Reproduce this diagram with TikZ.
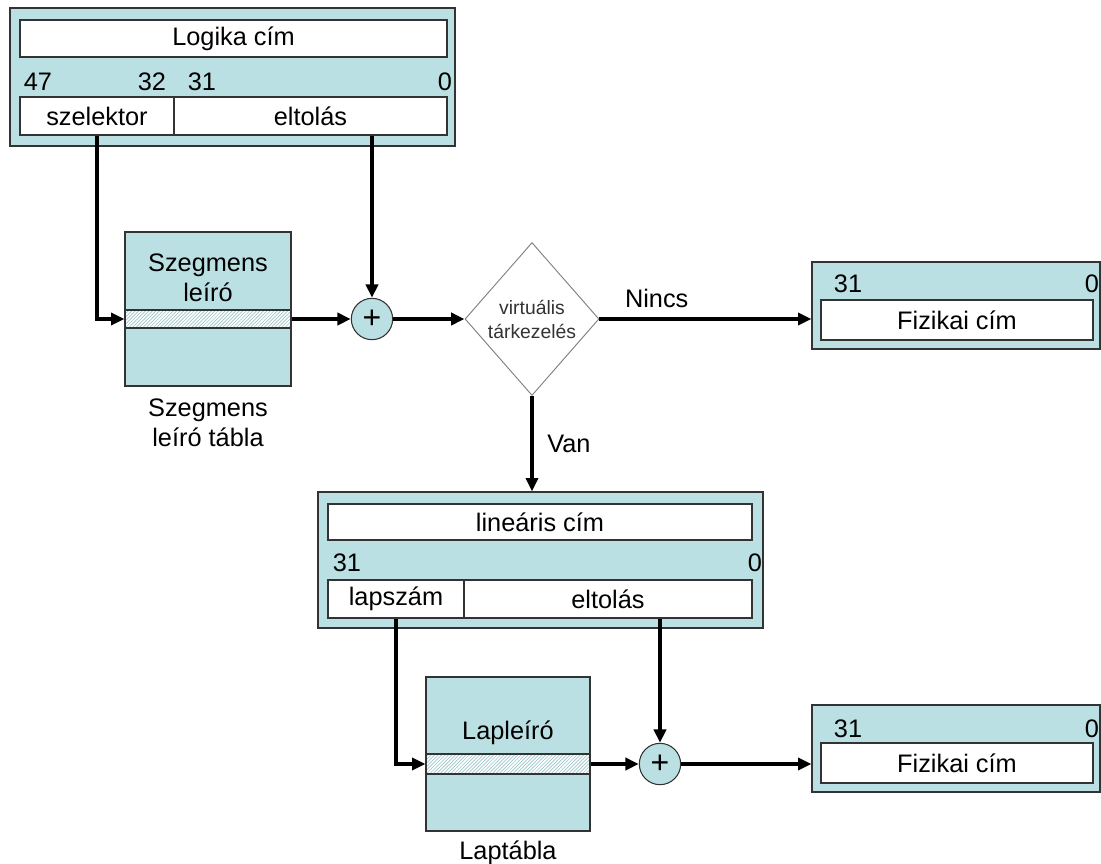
\documentclass[tikz,border=0pt]{standalone}
\usepackage{fontspec}
\setmainfont{Liberation Sans}
\usetikzlibrary{fit,shapes.geometric,arrows.meta}
\definecolor{panel}{HTML}{BBE0E3}
\definecolor{edge}{HTML}{333333}
\definecolor{hatch}{HTML}{9CC6CA}
\begin{document}
\begin{tikzpicture}[x=0.75pt,y=-0.75pt,
  txt/.style={font=\fontsize{19}{22.5}\selectfont, inner sep=0pt, align=center},
  panelbox/.style={draw=edge, fill=panel, line width=0.8pt, inner sep=0pt},
  field/.style={draw=edge, fill=white, line width=0.8pt, inner sep=0pt},
  stripe/.style={draw=edge, fill=white, line width=0.8pt, inner sep=0pt,
    path picture={
      \foreach \k in {-8,...,48}
        \draw[hatch, line width=0.5pt]
          ([xshift=\k*2.6pt]path picture bounding box.south west) -- ++(16pt,16pt);
    }},
  adder/.style={circle, draw=edge, fill=panel, line width=0.8pt, inner sep=0pt,
                minimum size=31pt, font=\fontsize{24}{24}\selectfont},
  decision/.style={diamond, draw=gray, fill=white, line width=0.7pt, inner sep=0pt,
                   minimum width=100.5pt, minimum height=114.75pt, align=center,
                   font=\fontsize{14.5}{18}\selectfont, text=black!80},
  arr/.style={line width=3pt, -{Triangle[length=10pt,width=9pt]}}
]
\useasboundingbox (0,0) rectangle (1101,864);

% logical address register
\node[panelbox, fit={(10,8)(455,146)}] (logic) {};
\node[field, fit={(20,20)(447,57)}] (logtitle) {};
\node[field, fit={(20,97)(174,135)}] (sel) {};
\node[field, fit={(174,97)(447,135)}] (off) {};
\node[txt] (logtitle-t) at (logtitle.center) {Logika cím};
\node[txt] (sel-t) at (sel.center) {szelektor};
\node[txt] (off-t) at (off.center) {eltolás};
\node[txt] (b47) at (38,82) {47};
\node[txt] (b32) at (152,82) {32};
\node[txt] (b31) at (202,82) {31};
\node[txt] (b0) at (445,82) {0};

% segment descriptor table
\node[panelbox, fit={(125,232)(291,386)}] (segtab) {};
\node[stripe, fit={(125,310)(291,328)}] (segrow) {};
\node[txt] (segtxt) at (208,278) {Szegmens\\leíró};
\node[txt] (seglbl) at (208,422.5) {Szegmens\\leíró tábla};

% first adder and decision
\node[adder] (plus1) at (372,319) {+};
\node[decision] (virt) at (532,319) {virtuális\\tárkezelés};

% physical address without paging
\node[panelbox, fit={(812,262)(1100,349)}] (phys1) {};
\node[field, fit={(821,300)(1093,340)}] (phys1f) {};
\node[txt] (phys1f-t) at (phys1f.center) {Fizikai cím};
\node[txt] (p1b31) at (848,284) {31};
\node[txt] (p1b0) at (1092,284) {0};

% linear address register
\node[panelbox, fit={(318,492)(763,628)}] (linear) {};
\node[field, fit={(328,504)(752,540)}] (lintitle) {};
\node[field, fit={(328,580)(464,618)}] (page) {};
\node[field, fit={(464,580)(752,618)}] (off2) {};
\node[txt] (lintitle-t) at (lintitle.center) {lineáris cím};
\node[txt] (page-t) at (page.center) {lapszám};
\node[txt] (off2-t) at (off2.center) {eltolás};
\node[txt] (l31) at (347,563) {31};
\node[txt] (l0) at (755,563) {0};

% page table
\node[panelbox, fit={(426,677)(590,831)}] (pagetab) {};
\node[stripe, fit={(426,754)(590,774)}] (pagerow) {};
\node[txt] (pagetxt) at (508,733) {Lapleíró};
\node[txt] (pagelbl) at (508,853) {Laptábla};

% second adder and physical address
\node[adder] (plus2) at (660,764) {+};
\node[panelbox, fit={(812,705)(1100,792)}] (phys2) {};
\node[field, fit={(821,743)(1093,783)}] (phys2f) {};
\node[txt] (phys2f-t) at (phys2f.center) {Fizikai cím};
\node[txt] (p2b31) at (848,729) {31};
\node[txt] (p2b0) at (1092,729) {0};

% connectors
\draw[arr] (sel.south) |- (segrow.west);
\draw[arr] (plus1.north |- off.south) -- (plus1.north);
\draw[arr] (segrow.east) -- (plus1.west);
\draw[arr] (plus1.east) -- (virt.west);
\draw[arr] (virt.east) -- (virt.east -| phys1.west)
  node[txt, pos=0.27, above=7pt] (nincs) {Nincs};
\draw[arr] (virt.south) -- (virt.south |- linear.north)
  node[txt, midway, right=10pt] (van) {Van};
\draw[arr] (page.south) |- (pagerow.west);
\draw[arr] (plus2.north |- off2.south) -- (plus2.north);
\draw[arr] (pagerow.east) -- (plus2.west);
\draw[arr] (plus2.east) -- (plus2.east -| phys2.west);
\end{tikzpicture}
\end{document}
